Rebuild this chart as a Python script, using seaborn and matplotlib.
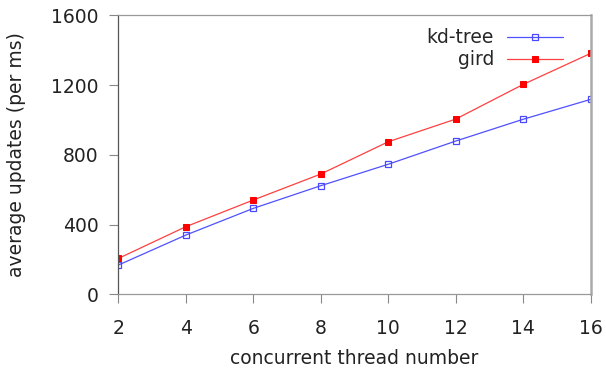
import pandas as pd
import seaborn as sns
import matplotlib.pyplot as plt

# values
threads = [2, 4, 6, 8, 10, 12, 14, 16]
kd_tree = [168, 340, 493, 623, 746, 879, 1004, 1118]
gird = [206, 388, 541, 690, 875, 1005, 1204, 1382]
y_ticks = [0, 400, 800, 1200, 1600]

df = pd.DataFrame({'threads': threads * 2,
                   'updates': kd_tree + gird,
                   'method': ['kd-tree'] * len(threads) + ['gird'] * len(threads)})

sns.set_style('white')
plt.rcParams['font.family'] = ['DejaVu Sans']

fig = plt.figure(figsize=(6.06, 3.69), dpi=100)
ax = fig.add_axes([0.1955, 0.2024, 0.7793, 0.7561])

sns.lineplot(data=df[df.method == 'kd-tree'], x='threads', y='updates', ax=ax,
             color='#5050ff', lw=0.9, marker='s', markersize=4.5,
             markerfacecolor='none', markeredgecolor='#4848ff', markeredgewidth=0.9,
             label='kd-tree')
sns.lineplot(data=df[df.method == 'gird'], x='threads', y='updates', ax=ax,
             color='#ff4040', lw=0.9, marker='s', markersize=4.5,
             markerfacecolor='red', markeredgecolor='red',
             label='gird')

ax.set_xlim(2, 16)
ax.set_ylim(0, 1600)
ax.set_xticks(threads)
ax.set_yticks(y_ticks)

ax.tick_params(axis='both', which='major', direction='out', length=6.5, width=0.8,
               color='#888888', labelsize=13.5, labelcolor='#222222')
ax.tick_params(axis='x', pad=11)
ax.tick_params(axis='y', pad=8)
ax.tick_params(top=False, right=False, bottom=True, left=True)

ax.spines['left'].set_color('#555555')
ax.spines['bottom'].set_color('#999999')
ax.spines['top'].set_color('#999999')
ax.spines['right'].set_color('#aaaaaa')
ax.spines['right'].set_linewidth(1.8)
for s in ['left', 'bottom', 'top']:
    ax.spines[s].set_linewidth(0.9)

ax.set_xlabel('concurrent thread number', fontsize=13.5, color='#222222', labelpad=8)
ax.set_ylabel('average updates (per ms)', fontsize=13.5, color='#222222', labelpad=18)

ax.legend(loc='upper right', frameon=False, markerfirst=False, fontsize=13.5,
          handlelength=3.0, handletextpad=0.7, labelspacing=0.15,
          borderaxespad=0.3, bbox_to_anchor=(0.97, 1.0))

fig.savefig('out.png', dpi=100)
